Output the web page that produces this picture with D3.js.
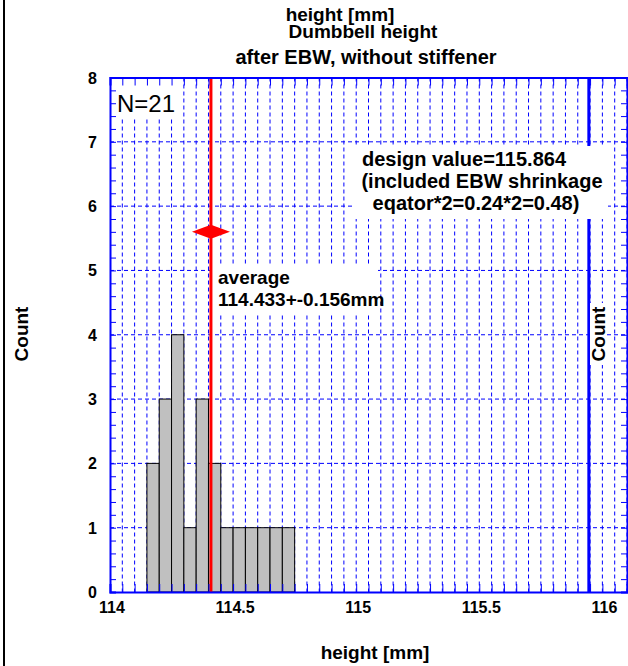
<!DOCTYPE html>
<html>
<head>
<meta charset="utf-8">
<script src="https://cdn.jsdelivr.net/npm/d3@7"></script>
<style>
  body { margin: 0; background: #fff; }
  text { font-family: "Liberation Sans", Arial, sans-serif; }
</style>
</head>
<body>
<div id="chart"></div>
<script>
// histogram bins (left edge, mm) and counts
var binEdges = [114.15, 114.2, 114.25, 114.3, 114.35, 114.4, 114.45, 114.5, 114.55, 114.6, 114.65, 114.7];
var counts = [2, 3, 4, 1, 3, 2, 1, 1, 1, 1, 1, 1];
var binWidth = 0.05;

var xTickLabels = [114, 114.5, 115, 115.5, 116];
var yTickLabels = [0, 1, 2, 3, 4, 5, 6, 7, 8];

var averageLine = 114.41;     // red line
var averageMarkerY = 5.6;     // red diamond
var designLine = 115.945;     // blue line

var titleLines = ["height [mm]", "Dumbbell height", "after EBW, without stiffener"];
var designText = ["design value=115.864", "(included EBW shrinkage", "eqator*2=0.24*2=0.48)"];
var averageText = ["average", "114.433+-0.156mm"];

var svgWidth = 628;
var svgHeight = 666;

var svg = d3.select("#chart")
  .append("svg")
  .attr("width", svgWidth)
  .attr("height", svgHeight);

svg.append("rect")
  .attr("width", svgWidth)
  .attr("height", svgHeight)
  .attr("fill", "#fff");

// outer frame line on the left
svg.append("line")
  .attr("x1", 4).attr("x2", 4)
  .attr("y1", 0).attr("y2", svgHeight)
  .attr("stroke", "#000")
  .attr("stroke-width", 2);

var xScale = d3.scaleLinear()
  .domain([114, 116.1])
  .range([110, 627]);

var yScale = d3.scaleLinear()
  .domain([0, 8])
  .range([592, 77.5]);

var blue = "#0000ff";

// grid
var xMinor = d3.range(1, 43).map(i => 114 + i * 0.05);
var yMinor = d3.range(0, 41).map(i => i * 0.2);

svg.append("g")
  .selectAll("line")
  .data(xMinor)
  .enter()
  .append("line")
  .attr("x1", d => xScale(d))
  .attr("x2", d => xScale(d))
  .attr("y1", yScale(8))
  .attr("y2", yScale(0))
  .attr("stroke", blue)
  .attr("stroke-width", 1)
  .attr("stroke-dasharray", "4,3");

svg.append("g")
  .selectAll("line")
  .data(yTickLabels.slice(1, 8))
  .enter()
  .append("line")
  .attr("x1", xScale(114))
  .attr("x2", xScale(116.1))
  .attr("y1", d => yScale(d))
  .attr("y2", d => yScale(d))
  .attr("stroke", blue)
  .attr("stroke-width", 1)
  .attr("stroke-dasharray", "4,3");

// histogram
svg.append("g")
  .selectAll("rect")
  .data(binEdges)
  .enter()
  .append("rect")
  .attr("x", d => xScale(d))
  .attr("width", xScale(114 + binWidth) - xScale(114))
  .attr("y", (d, i) => yScale(counts[i]))
  .attr("height", (d, i) => yScale(0) - yScale(counts[i]))
  .attr("fill", "#c0c0c0")
  .attr("stroke", "#000")
  .attr("stroke-width", 1);

// design value line
svg.append("line")
  .attr("x1", xScale(designLine)).attr("x2", xScale(designLine))
  .attr("y1", yScale(8)).attr("y2", yScale(0))
  .attr("stroke", blue)
  .attr("stroke-width", 3);

// average line + marker
var ax = xScale(averageLine);
var ay = yScale(averageMarkerY);
svg.append("line")
  .attr("x1", ax).attr("x2", ax)
  .attr("y1", yScale(8)).attr("y2", yScale(0))
  .attr("stroke", "#ff0000")
  .attr("stroke-width", 3);

svg.append("path")
  .attr("d", `M${ax - 19},${ay} L${ax},${ay - 7} L${ax + 19},${ay} L${ax},${ay + 7} Z`)
  .attr("fill", "#ff0000");

// white boxes
svg.append("rect")
  .attr("x", 111).attr("y", 78)
  .attr("width", 70).attr("height", 40)
  .attr("fill", "#fff");

svg.append("rect")
  .attr("x", 354).attr("y", 146)
  .attr("width", 254).attr("height", 73)
  .attr("fill", "#fff");

svg.append("rect")
  .attr("x", 214).attr("y", 264)
  .attr("width", 164).attr("height", 49)
  .attr("fill", "#fff");

svg.append("rect")
  .attr("x", 590).attr("y", 303)
  .attr("width", 17).attr("height", 62)
  .attr("fill", "#fff");

// axes
var xAxisBottom = d3.axisBottom(xScale).tickValues(xMinor.concat([114])).tickSize(-8).tickFormat("");
var xAxisTop = d3.axisTop(xScale).tickValues(xMinor).tickSize(-8).tickFormat("");
var yAxisLeft = d3.axisLeft(yScale).tickValues(yMinor).tickSize(-6).tickFormat("");
var yAxisRight = d3.axisRight(yScale).tickValues(yMinor).tickSize(-6).tickFormat("");

[
  svg.append("g").attr("transform", `translate(0,${yScale(0)})`).call(xAxisBottom),
  svg.append("g").attr("transform", `translate(0,${yScale(8)})`).call(xAxisTop),
  svg.append("g").attr("transform", `translate(${xScale(114)},0)`).call(yAxisLeft),
  svg.append("g").attr("transform", `translate(${xScale(116.1)},0)`).call(yAxisRight)
].forEach(function(g) {
  g.select(".domain").attr("stroke", blue).attr("stroke-width", 2);
  g.selectAll(".tick line").attr("stroke", blue).attr("stroke-width", 1);
});

// tick labels
svg.append("g")
  .selectAll("text")
  .data(xTickLabels)
  .enter()
  .append("text")
  .attr("x", d => xScale(d) + 2)
  .attr("y", 613)
  .attr("text-anchor", "middle")
  .style("font-size", "16px")
  .style("font-weight", "bold")
  .text(d => d);

svg.append("g")
  .selectAll("text")
  .data(yTickLabels)
  .enter()
  .append("text")
  .attr("x", 97)
  .attr("y", d => yScale(d) + 6)
  .attr("text-anchor", "end")
  .style("font-size", "16px")
  .style("font-weight", "bold")
  .text(d => d);

// titles
var titleY = [21, 38, 64];
var titleX = [340, 363, 366];
svg.append("g")
  .selectAll("text")
  .data(titleLines)
  .enter()
  .append("text")
  .attr("x", (d, i) => titleX[i])
  .attr("y", (d, i) => titleY[i])
  .attr("text-anchor", "middle")
  .style("font-size", (d, i) => i == 2 ? "20px" : "19px")
  .style("font-weight", "bold")
  .text(d => d);

svg.append("text")
  .attr("x", 375)
  .attr("y", 659)
  .attr("text-anchor", "middle")
  .style("font-size", "19px")
  .style("font-weight", "bold")
  .text("height [mm]");

svg.append("text")
  .attr("transform", "translate(28,334) rotate(-90)")
  .attr("text-anchor", "middle")
  .style("font-size", "19px")
  .style("font-weight", "bold")
  .text("Count");

svg.append("text")
  .attr("transform", "translate(605,334) rotate(-90)")
  .attr("text-anchor", "middle")
  .style("font-size", "19px")
  .style("font-weight", "bold")
  .text("Count");

// annotations
svg.append("text")
  .attr("x", 117)
  .attr("y", 112)
  .style("font-size", "24px")
  .text("N=21");

var designX = [464, 482, 476];
svg.append("g")
  .selectAll("text")
  .data(designText)
  .enter()
  .append("text")
  .attr("x", (d, i) => designX[i])
  .attr("y", (d, i) => 166 + i * 22)
  .attr("text-anchor", "middle")
  .style("font-size", "20px")
  .style("font-weight", "bold")
  .text(d => d);

svg.append("g")
  .selectAll("text")
  .data(averageText)
  .enter()
  .append("text")
  .attr("x", 218)
  .attr("y", (d, i) => 284 + i * 22)
  .style("font-size", "19px")
  .style("font-weight", "bold")
  .text(d => d);
</script>
</body>
</html>
